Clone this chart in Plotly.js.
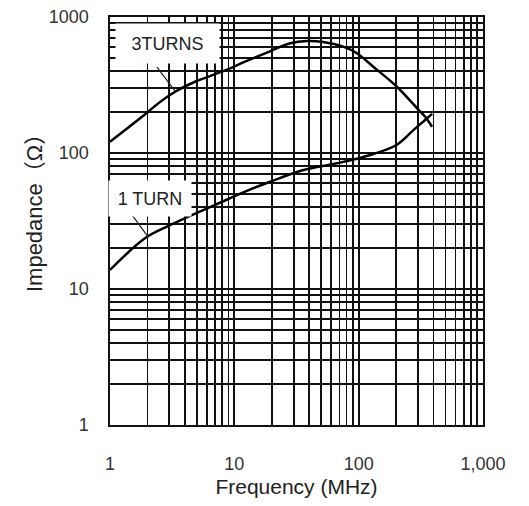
<!DOCTYPE html>
<html>
<head>
<meta charset="utf-8">
<script src="https://cdn.plot.ly/plotly-3.0.1.min.js"></script>
<style>html,body{margin:0;padding:0;background:#fff;}#chart{width:529px;height:506px;}</style>
</head>
<body>
<div id="chart"></div>
<script>
// Frequency (MHz) and impedance (ohm)
const freq3 = [1, 2.03, 2.3, 3.34, 4.83, 7.93, 12.2, 17.7, 28.1, 38.4, 51.9, 75.2, 96.9, 131, 203, 294, 344, 389];
const imp3  = [121, 201, 222, 282, 334, 396, 469, 541, 641, 666, 655, 605, 541, 431, 307, 214, 184, 156];
const freq1 = [1, 1.91, 2.95, 4.27, 7.0, 12.2, 19.4, 36, 66.9, 124, 203, 277, 355, 389];
const imp1  = [13.8, 23.6, 29.1, 34.0, 41.5, 52, 61.5, 75, 84, 96.7, 115, 148, 180, 194];
const seriesNames = ['3TURNS', '1 TURN'];
const xTitle = 'Frequency (MHz)';
const yTitle = 'Impedance（Ω）';

// grid / tick positions (1-2-...-9 per decade)
const gridVals = [];
for (const d of [1, 10, 100]) for (let k = 1; k <= 9; k++) gridVals.push(k * d);
gridVals.push(1000);
const decades = [1, 10, 100, 1000];
const yTickText = gridVals.map(v => (decades.includes(v) ? String(v) : ''));
const xTickText = gridVals.map(v => (decades.includes(v) ? (v === 1000 ? '1,000' : String(v)) : ''));

const lineStyle = {color: '#000', width: 2.5, shape: 'spline', smoothing: 1};
const data = [
  {x: freq3, y: imp3, mode: 'lines', name: seriesNames[0], line: lineStyle, hoverinfo: 'skip'},
  {x: freq1, y: imp1, mode: 'lines', name: seriesNames[1], line: lineStyle, hoverinfo: 'skip'}
];

const font = 'Liberation Sans, Arial, Noto Sans CJK JP, sans-serif';
const layout = {
  width: 529, height: 506,
  margin: {l: 110, r: 46, t: 17, b: 81},
  paper_bgcolor: '#fff', plot_bgcolor: '#fff',
  showlegend: false,
  font: {family: font, color: '#222'},
  xaxis: {
    type: 'log', range: [0, 3],
    tickvals: gridVals, ticktext: xTickText,
    showgrid: true, gridcolor: '#111', gridwidth: 1.7,
    showline: true, linecolor: '#111', linewidth: 1.7, mirror: true,
    ticks: '', ticklabelstandoff: 22, zeroline: false,
    tickfont: {size: 18, color: '#333', family: font},
    title: {text: xTitle, font: {size: 21, color: '#222', family: font}, standoff: 6}
  },
  yaxis: {
    type: 'log', range: [0, 3],
    tickvals: gridVals, ticktext: yTickText,
    showgrid: true, gridcolor: '#111', gridwidth: 1.7,
    showline: true, linecolor: '#111', linewidth: 1.7, mirror: true,
    ticks: '', ticklabelstandoff: 16, zeroline: false,
    tickfont: {size: 18, color: '#333', family: font}
  },
  annotations: [
    {xref: 'paper', yref: 'paper', x: -0.204, y: 0.534, xanchor: 'center', yanchor: 'middle',
     text: yTitle, textangle: -90, showarrow: false, font: {size: 22, color: '#222', family: font}},
    {xref: 'paper', yref: 'paper', x: 0.154, y: 0.935, xanchor: 'center', yanchor: 'middle',
     text: seriesNames[0], showarrow: false,
     bgcolor: '#fff', width: 101, height: 37, font: {size: 18, color: '#222', family: font}},
    {xref: 'paper', yref: 'paper', x: 0.107, y: 0.555, xanchor: 'center', yanchor: 'middle',
     text: seriesNames[1], showarrow: false,
     bgcolor: '#fff', width: 80, height: 33, font: {size: 18, color: '#222', family: font}}
  ],
  shapes: [
    {type: 'line', xref: 'paper', yref: 'paper', x0: 0.126, y0: 0.877, x1: 0.174, y1: 0.819, line: {color: '#222', width: 1.2}},
    {type: 'line', xref: 'paper', yref: 'paper', x0: 0.059, y0: 0.515, x1: 0.102, y1: 0.461, line: {color: '#222', width: 1.2}}
  ]
};

Plotly.newPlot('chart', data, layout, {displayModeBar: false, staticPlot: true});
</script>
</body>
</html>
